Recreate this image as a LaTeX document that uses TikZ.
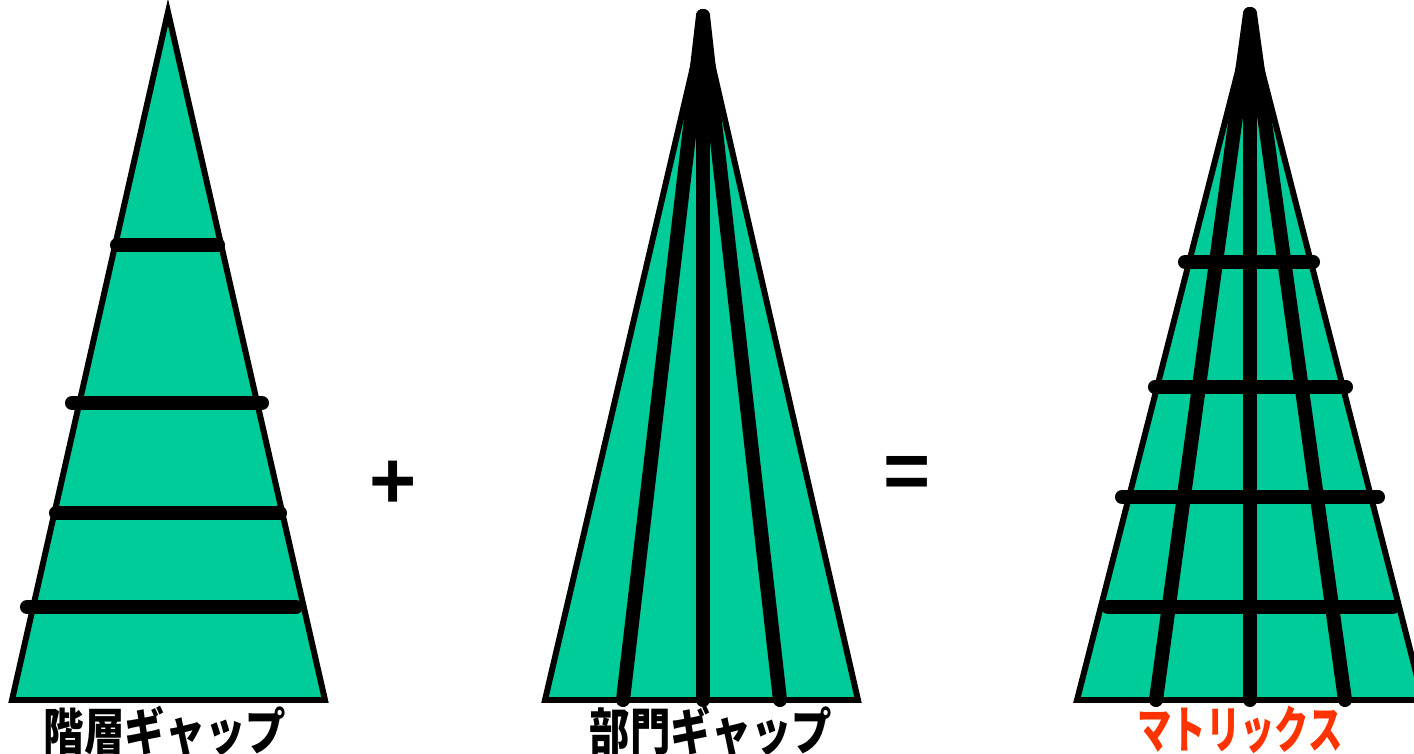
\documentclass[tikz,border=0pt]{standalone}
\usepackage{fontspec}
\setmainfont{Liberation Sans}
\newfontfamily\jpfont{Noto Sans CJK JP}
\usetikzlibrary{positioning}
\definecolor{treegreen}{RGB}{0,204,153}
\definecolor{matrixred}{RGB}{255,51,0}

\begin{document}
\begin{tikzpicture}[
  x=0.02cm, y=-0.02cm,
  tri/.style={draw, fill=treegreen, line width=3.4pt, line join=miter},
  bar/.style={line width=8pt, line cap=round},
  gaplabel/.style={font=\jpfont\bfseries\fontsize{23}{23}\selectfont,
                   inner sep=0pt, anchor=north},
  sign/.style={font=\bfseries\fontsize{46}{46}\selectfont, inner sep=0pt}
]
\useasboundingbox (0,0) rectangle (1414,754);

% hierarchy gap
\draw[tri] (168,12) -- (12,700) -- (325,700) -- cycle;
\draw[bar] (117,245) -- (218,245);
\draw[bar] (72,403) -- (262,403);
\draw[bar] (56,513) -- (280,513);
\draw[bar] (27,607) -- (296,607);

% division gap
\draw[tri] (703,24) -- (545,700) -- (858,700) -- cycle;
\foreach \bx in {623,703,780}
  \draw[bar] (703,16) -- (\bx,700);

% matrix
\draw[tri] (1250,24) -- (1077,700) -- (1423,700) -- cycle;
\foreach \bx in {1156,1250,1345}
  \draw[bar] (1250,14) -- (\bx,700);
\draw[bar] (1185,262) -- (1313,262);
\draw[bar] (1155,387) -- (1346,387);
\draw[bar] (1122,497) -- (1378,497);
\draw[bar] (1108,607) -- (1393,607);

% signs
\node[sign] (plus) at (393,485) {+};
\node[sign] (equals) at (907,477) {=};

% labels
\node[gaplabel] (hier) at (165,706) {\scalebox{1}[1.25]{階層ギャップ}};
\node[gaplabel] (dept) at (711,706) {\scalebox{1}[1.25]{部門ギャップ}};
\node[gaplabel, text=matrixred] (matrix) at (1240,706)
  {\scalebox{0.85}[1.25]{マトリックス}};
\end{tikzpicture}
\end{document}
